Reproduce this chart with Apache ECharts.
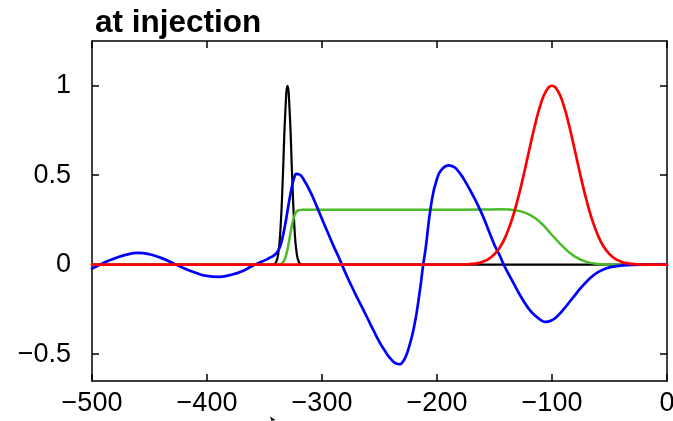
<!DOCTYPE html>
<html>
<head>
<meta charset="utf-8">
<script src="https://cdn.jsdelivr.net/npm/echarts@6/dist/echarts.min.js"></script>
<style>
html,body{margin:0;padding:0;background:#fff;}
#chart{width:673px;height:421px;}
</style>
</head>
<body>
<div id="chart"></div>
<script>
// Data
var titleText = 'at injection';
var xTicks = [-500, -400, -300, -200, -100, 0];
var yTicks = [-0.5, 0, 0.5, 1];

var blackX = [-500, -345, -342, -340, -338, -336, -334, -332, -330, -328, -326, -324, -322, -320, -318, -315, 0];
var blackY = [0, 0, 0.002, 0.013, 0.063, 0.21, 0.50, 0.84, 1.0, 0.84, 0.50, 0.21, 0.063, 0.013, 0.002, 0, 0];

var greenX = [-500, -340, -338, -336, -334, -332, -330, -328, -326, -324, -322, -320, -317, -200, -160, -145, -138, -130, -120, -110, -100, -90, -80, -70, -60, -50, -40, 0];
var greenY = [0, 0, 0.001, 0.003, 0.012, 0.037, 0.086, 0.155, 0.224, 0.273, 0.298, 0.305, 0.307, 0.307, 0.308, 0.31, 0.309, 0.302, 0.281, 0.236, 0.166, 0.098, 0.045, 0.016, 0.004, 0.001, 0, 0];

var blueX = [-500, -490, -480, -470, -460, -450, -440, -430, -420, -410, -400, -390, -380, -370, -360, -355, -350, -345, -342, -340, -338, -336, -334, -332, -330, -328, -326, -324, -322.5, -320, -315, -310, -305, -300, -295, -290, -285, -280, -275, -270, -265, -260, -255, -250, -245, -240, -235, -232.5, -230, -227.5, -225, -220, -215, -212, -210, -205, -200, -195, -190, -185, -180, -175, -170, -165, -160, -155, -150, -145, -142, -135, -130, -125, -120, -115, -110, -106, -100, -95, -90, -85, -80, -75, -70, -65, -60, -55, -50, -45, -40, -30, -20, 0];
var blueY = [-0.022, 0.01, 0.036, 0.056, 0.066, 0.058, 0.038, 0.01, -0.02, -0.045, -0.063, -0.068, -0.058, -0.038, -0.005, 0.01, 0.024, 0.04, 0.05, 0.062, 0.08, 0.11, 0.16, 0.225, 0.30, 0.375, 0.44, 0.49, 0.507, 0.505, 0.465, 0.405, 0.333, 0.255, 0.18, 0.105, 0.035, -0.04, -0.11, -0.177, -0.24, -0.305, -0.37, -0.433, -0.485, -0.528, -0.554, -0.556, -0.545, -0.518, -0.475, -0.35, -0.15, 0, 0.085, 0.34, 0.48, 0.538, 0.555, 0.545, 0.51, 0.46, 0.402, 0.34, 0.27, 0.19, 0.11, 0.045, 0, -0.085, -0.145, -0.2, -0.248, -0.283, -0.308, -0.32, -0.31, -0.285, -0.25, -0.21, -0.17, -0.13, -0.095, -0.065, -0.042, -0.026, -0.015, -0.009, -0.005, -0.001, 0, 0];

var redX = [-500, -180, -170, -165, -160, -155, -150, -145, -140, -135, -130, -125, -120, -115, -110, -105, -100, -95, -90, -85, -80, -75, -70, -65, -60, -55, -50, -45, -40, -35, -30, -20, 0];
var redY = [0, 0, 0.004, 0.008, 0.017, 0.032, 0.059, 0.10, 0.163, 0.249, 0.36, 0.492, 0.635, 0.775, 0.893, 0.972, 1.0, 0.972, 0.893, 0.775, 0.635, 0.492, 0.36, 0.249, 0.163, 0.10, 0.059, 0.032, 0.017, 0.008, 0.004, 0, 0];

function pairs(xs, ys) { return xs.map(function (x, i) { return [x, ys[i]]; }); }
function minus(v) { return String(v).replace('-', '\u2212'); }

var FONT = 'Liberation Sans, Arial, Helvetica, sans-serif';
var chart = echarts.init(document.getElementById('chart'), null, { renderer: 'canvas' });

var axisLine = { show: true, onZero: false, lineStyle: { color: '#000', width: 1.5 } };
var tick = { show: true, inside: true, length: 7, lineStyle: { color: '#000', width: 1.5 } };

function lineSeries(name, xs, ys, color, width) {
  return {
    name: name, type: 'line', data: pairs(xs, ys), showSymbol: false, smooth: 0.5,
    lineStyle: { color: color, width: width, join: 'round', cap: 'round' }, animation: false, z: 2
  };
}

chart.setOption({
  animation: false,
  backgroundColor: '#fff',
  title: {
    text: titleText, left: 95, top: 7, padding: 0,
    textStyle: { fontFamily: FONT, fontSize: 31.5, fontWeight: 'bold', color: '#000' }
  },
  grid: { left: 92, right: 6, top: 41, bottom: 40, containLabel: false, outerBoundsMode: 'none' },
  xAxis: [
    {
      type: 'value', position: 'bottom', min: -500, max: 0, interval: 100,
      axisLine: axisLine, axisTick: tick, splitLine: { show: false },
      axisLabel: { fontFamily: FONT, fontSize: 27, color: '#000', margin: 9, formatter: minus,
                   customValues: xTicks, hideOverlap: false }
    },
    {
      type: 'value', position: 'top', min: -500, max: 0, interval: 100,
      axisLine: axisLine, axisTick: tick, splitLine: { show: false }, axisLabel: { show: false }
    }
  ],
  yAxis: [
    {
      type: 'value', position: 'left', min: -0.65, max: 1.25,
      axisLine: axisLine, splitLine: { show: false },
      axisTick: Object.assign({ customValues: yTicks }, tick),
      axisLabel: { fontFamily: FONT, fontSize: 27, color: '#000', margin: 21, formatter: minus,
                   customValues: yTicks }
    },
    {
      type: 'value', position: 'right', min: -0.65, max: 1.25,
      axisLine: axisLine, splitLine: { show: false },
      axisTick: Object.assign({ customValues: yTicks }, tick),
      axisLabel: { show: false }
    }
  ],
  graphic: [{
    type: 'polygon', silent: true,
    shape: { points: [[270, 416.5], [275.5, 420], [271.5, 421]] },
    style: { fill: '#000' }
  }],
  series: [
    lineSeries('black', blackX, blackY, '#000000', 2.2),
    lineSeries('green', greenX, greenY, '#4cbb2a', 2.5),
    lineSeries('blue', blueX, blueY, '#0000ff', 2.7),
    lineSeries('red', redX, redY, '#ff0000', 2.7)
  ]
});
</script>
</body>
</html>
